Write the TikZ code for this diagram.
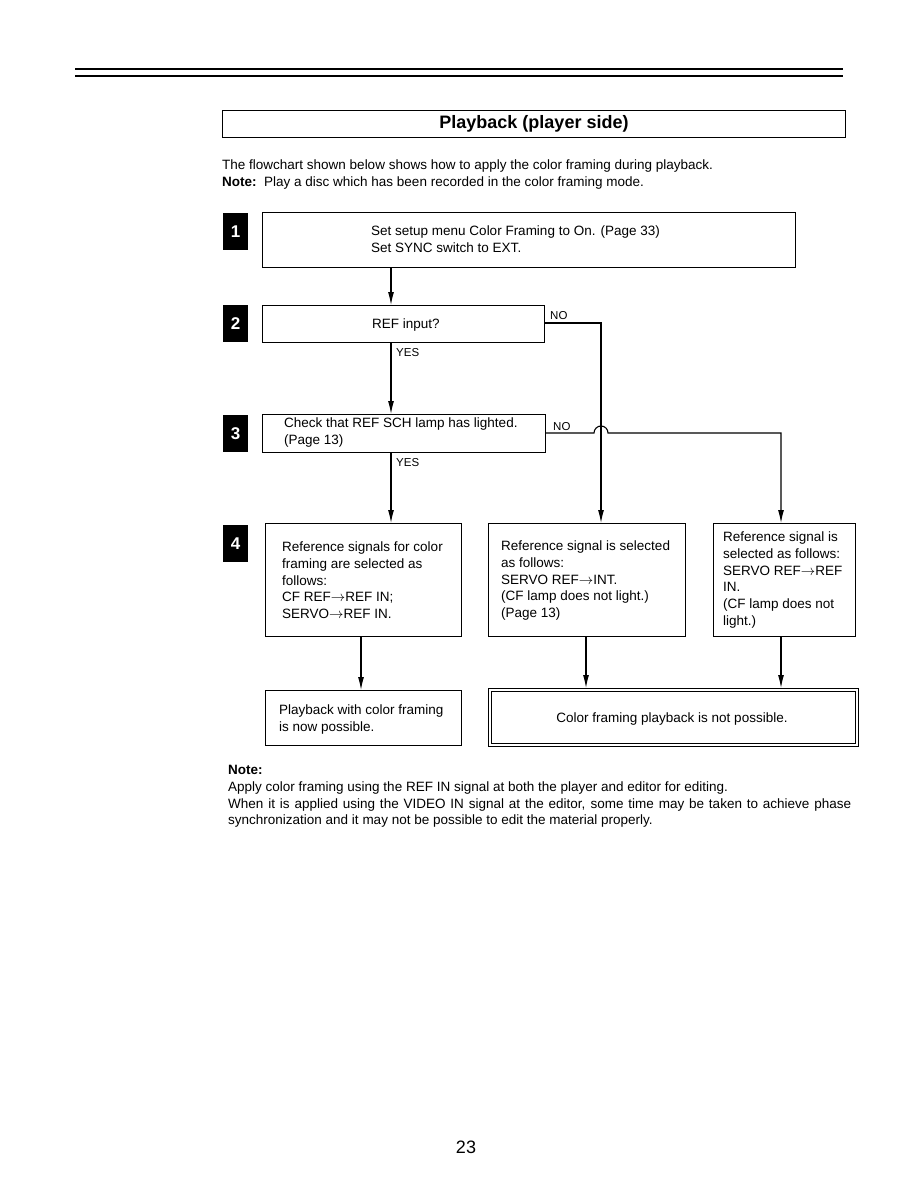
\documentclass[tikz,border=0pt]{standalone}
\usepackage{fontspec}
\setmainfont{Liberation Sans}
\usetikzlibrary{arrows.meta}
\newcommand\tstrut{\rule{0pt}{12pt}}
\newcommand\ra{\ensuremath{\rightarrow}}
\begin{document}
\begin{tikzpicture}[x=1pt,y=-1pt,
  box/.style={draw, line width=1.2pt, inner sep=0, anchor=north west},
  txt/.style={inner sep=0, anchor=north west, align=left, font=\fontsize{13.5}{16.7}\selectfont},
  lab/.style={inner sep=0, anchor=base west, font=\fontsize{11.5}{13}\selectfont},
  marker/.style={fill=black, minimum width=25pt, minimum height=37pt, inner sep=0, anchor=north west, text=white, font=\bfseries\fontsize{17}{19}\selectfont},
  link/.style={line width=1.1pt},
  arr/.style={link, -{Latex[length=13pt,width=6pt]}}]
\useasboundingbox[fill=white] (0,0) rectangle (918,1188);

% header rules
\draw[line width=2pt] (75,69) -- (843,69);
\draw[line width=2pt] (75,76) -- (843,76);

% title
\node[box, line width=1pt, minimum width=623pt, minimum height=27pt] (title) at (222,110) {};
\node[inner sep=0, font=\bfseries\fontsize{18}{20}\selectfont] (titletext) at (title.center) {Playback (player side)};

% intro
\node[txt] (intro) at (222,157.5) {\tstrut The flowchart shown below shows how to apply the color framing during playback.\\
\textbf{Note:}\ \ Play a disc which has been recorded in the color framing mode.};

% step markers
\node[marker] (m1) at (223,213) {1};
\node[marker] (m2) at (223,305) {2};
\node[marker] (m3) at (223,415) {3};
\node[marker] (m4) at (223,525) {4};

% boxes
\node[box, minimum width=533pt, minimum height=55pt] (b1) at (262,212) {};
\node[box, minimum width=282pt, minimum height=37pt] (b2) at (262,305) {};
\node[box, minimum width=283pt, minimum height=38pt] (b3) at (262,414) {};
\node[box, minimum width=196pt, minimum height=113pt] (b4a) at (265,523) {};
\node[box, minimum width=197pt, minimum height=113pt] (b4b) at (488,523) {};
\node[box, minimum width=142pt, minimum height=113pt] (b4c) at (713,523) {};
\node[box, minimum width=196pt, minimum height=55pt] (b5a) at (265,690) {};
\node[box, line width=1.2pt, minimum width=370pt, minimum height=58pt] (b5b) at (488,688) {};
\draw[line width=0.9pt] ([shift={(3.5,3.5)}]b5b.north west) rectangle ([shift={(-3.5,-3.5)}]b5b.south east);

% box texts
\node[txt] (t1) at (371,223.5) {\tstrut Set setup menu Color Framing to On. (Page 33)\\Set SYNC switch to EXT.};
\node[txt, anchor=base] (t2) at (406,328) {REF input?};
\node[txt] (t3) at (284,415.5) {\tstrut Check that REF SCH lamp has lighted.\\(Page 13)};
\node[txt] (t4a) at (282,539.5) {\tstrut Reference signals for color\\framing are selected as\\follows:\\CF REF\ra REF IN;\\SERVO\ra REF IN.};
\node[txt] (t4b) at (501,538.5) {\tstrut Reference signal is selected\\as follows:\\SERVO REF\ra INT.\\(CF lamp does not light.)\\(Page 13)};
\node[txt] (t4c) at (723,529.5) {\tstrut Reference signal is\\selected as follows:\\SERVO REF\ra REF\\IN.\\(CF lamp does not\\light.)};
\node[txt] (t5a) at (279,702.5) {\tstrut Playback with color framing\\is now possible.};
\node[txt, anchor=base] (t5b) at (672,722) {Color framing playback is not possible.};

% labels
\node[lab] (no1) at (550,319) {NO};
\node[lab] (yes1) at (396,356) {YES};
\node[lab] (no2) at (553,430) {NO};
\node[lab] (yes2) at (396,466) {YES};

% column coordinates
\coordinate (cA) at (391,0);
\coordinate (cD) at (361,0);
\coordinate (cE) at (586,0);
\coordinate (n1) at (601,323);
\coordinate (n2) at (781,433);
\coordinate (hop) at (594,433);

% connectors
\draw[arr] (b1.south -| cA) -- (b2.north -| cA);
\draw[arr] (b2.south -| cA) -- (b3.north -| cA);
\draw[arr] (b3.south -| cA) -- (b4a.north -| cA);
\draw[arr] (b2.east |- n1) -- (n1) -- (b4b.north -| n1);
\draw[arr] (b3.east |- n2) -- (hop) arc[start angle=180, end angle=360, radius=7] -- (n2) -- (b4c.north -| n2);
\draw[arr] (b4a.south -| cD) -- (b5a.north -| cD);
\draw[arr] (b4b.south -| cE) -- (b5b.north -| cE);
\draw[arr] (b4c.south -| n2) -- (b5b.north -| n2);

% note
\node[txt] (note) at (228,762.5) {\tstrut\textbf{Note:}\\
Apply color framing using the REF IN signal at both the player and editor for editing.\\
\makebox[623pt][s]{When it is applied using the VIDEO IN signal at the editor, some time may be taken to achieve phase}\\
synchronization and it may not be possible to edit the material properly.};

% page number
\node[inner sep=0, font=\fontsize{18}{20}\selectfont] (pg) at (466,1147) {23};
\end{tikzpicture}
\end{document}
